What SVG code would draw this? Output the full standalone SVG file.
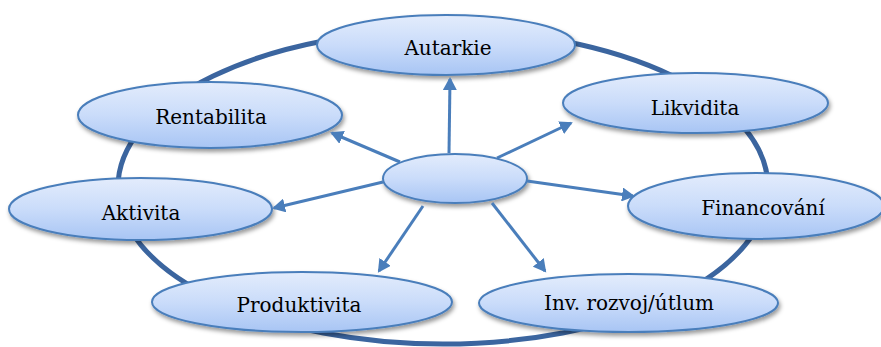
<svg xmlns="http://www.w3.org/2000/svg" width="881" height="347" viewBox="0 0 881 347">
  <defs>
    <linearGradient id="fillGrad" x1="0" y1="0" x2="0" y2="1">
      <stop offset="0" stop-color="#e3ecfc"/>
      <stop offset="0.5" stop-color="#cadcfa"/>
      <stop offset="1" stop-color="#a8c5f4"/>
    </linearGradient>
    <filter id="shadow" x="-10%" y="-20%" width="120%" height="150%">
      <feDropShadow dx="1.5" dy="3" stdDeviation="2.2" flood-color="#000" flood-opacity="0.4"/>
    </filter>
    <marker id="arrow" markerUnits="userSpaceOnUse" markerWidth="14" markerHeight="14" refX="11" refY="7" orient="auto">
      <path d="M0,0 L13,7 L0,14 z" fill="#4a7ebb"/>
    </marker>
  </defs>
  <style>
    .node ellipse { fill: url(#fillGrad); stroke: #4a7ebb; stroke-width: 2; filter: url(#shadow); }
    .lbl { font-family: 'DejaVu Serif', serif; font-size: 20px; fill: #000; text-anchor: middle; }
    .conn line { stroke: #4a7ebb; stroke-width: 3; marker-end: url(#arrow); }
    .ring { fill: none; stroke: #3b659f; stroke-width: 5; }
  </style>
  <rect width="881" height="347" fill="#ffffff"/>
  <ellipse class="ring" cx="443" cy="187" rx="325" ry="157"/>

  <g id="node-autarkie" class="node">
    <ellipse cx="446" cy="45" rx="129" ry="30"/>
    <text class="lbl" x="448" y="55">Autarkie</text>
  </g>
  <g id="node-rentabilita" class="node">
    <ellipse cx="210" cy="115" rx="132" ry="33"/>
    <text class="lbl" x="211" y="124">Rentabilita</text>
  </g>
  <g id="node-likvidita" class="node">
    <ellipse cx="695.500" cy="103" rx="132.500" ry="30"/>
    <text class="lbl" x="695" y="115">Likvidita</text>
  </g>
  <g id="node-aktivita" class="node">
    <ellipse cx="140.500" cy="209" rx="131.500" ry="31"/>
    <text class="lbl" x="141" y="220">Aktivita</text>
  </g>
  <g id="node-financovani" class="node">
    <ellipse cx="756" cy="206" rx="128" ry="33"/>
    <text class="lbl" x="763" y="215">Financování</text>
  </g>
  <g id="node-produktivita" class="node">
    <ellipse cx="302" cy="302" rx="150" ry="30"/>
    <text class="lbl" x="299" y="312">Produktivita</text>
  </g>
  <g id="node-inv" class="node">
    <ellipse cx="628.500" cy="303" rx="149.500" ry="29"/>
    <text class="lbl" x="629" y="310">Inv. rozvoj/útlum</text>
  </g>
  <g id="node-center" class="node">
    <ellipse cx="455" cy="178.500" rx="72" ry="24.500"/>
  </g>

  <g id="connectors" class="conn">
    <line x1="449" y1="153" x2="450" y2="79"/>
    <line x1="400" y1="162" x2="332" y2="133"/>
    <line x1="497" y1="158" x2="571" y2="123"/>
    <line x1="383" y1="182" x2="274" y2="208"/>
    <line x1="527" y1="181" x2="633" y2="196"/>
    <line x1="423" y1="206" x2="379" y2="271"/>
    <line x1="492" y1="203" x2="545" y2="271"/>
  </g>
</svg>
